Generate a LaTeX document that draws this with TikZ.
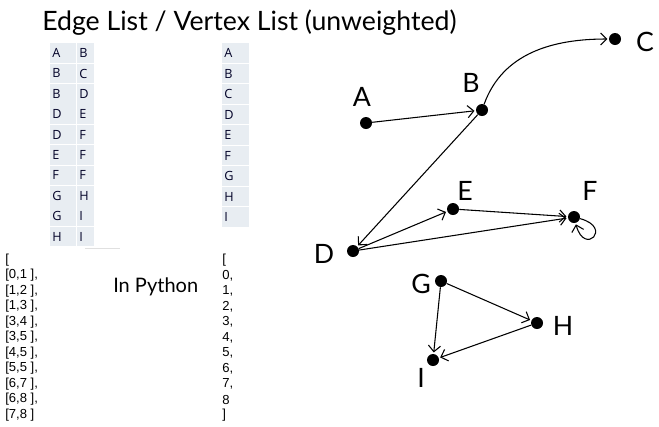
\documentclass[tikz,border=0pt]{standalone}
\usepackage{fontspec}
\setmainfont{Lato}
\newfontfamily\pyfont{Liberation Sans}
\newfontfamily\cellfont{Open Sans}
\usetikzlibrary{arrows.meta}

\begin{document}
\begin{tikzpicture}[x=0.75pt, y=-0.75pt, >={Straight Barb[length=1.6mm]},
	cell/.style={fill=cellbg, anchor=north west, inner xsep=1.5pt, inner ysep=0pt, minimum height=19.6*0.75pt, text depth=0pt, font=\cellfont\fontsize{9.5}{10}\selectfont, text=black!85!blue, align=left},
	pyline/.style={anchor=west, inner sep=0pt, font=\pyfont\fontsize{9.8}{10}\selectfont},
	dot/.style={circle, fill=black, inner sep=0pt, minimum size=9pt},
	lbl/.style={inner sep=0pt, font=\fontsize{20}{22}\selectfont},
	edge/.style={->, thick, shorten >=1pt}]
	\definecolor{cellbg}{HTML}{E8EDF2}
	\useasboundingbox (0,0) rectangle (659,426);
	% title
	\node[anchor=base west, inner sep=0pt, font=\fontsize{20}{24}\selectfont] (title) at (42,30) {Edge List / Vertex List (unweighted)};
	% edge list table
	\foreach \a/\b [count=\i] in {A/B,B/C,B/D,D/E,D/F,E/F,F/F,G/H,G/I,H/I} {
		\node[cell, text width=22*0.75pt] (ea\i) at (50,{43+20.4*(\i-1)}) {\a};
		\node[cell, text width=13*0.75pt] (eb\i) at (77,{43+20.4*(\i-1)}) {\b};
	}
	\draw[black!12] (85,248) -- (120,248);
	% vertex list table
	\foreach \v [count=\i] in {A,B,C,D,E,F,G,H,I}
		\node[cell, text width=23*0.75pt] (v\i) at (222,{43+20.5*(\i-1)}) {\v};
	% python lists
	\foreach \t [count=\i] in {{[},{[0,1 ],},{[1,2 ],},{[1,3 ],},{[3,4 ],},{[3,5 ],},{[4,5 ],},{[5,5 ],},{[6,7 ],},{[6,8 ],},{[7,8 ]}}
		\node[pyline] (pe\i) at (5,{260+15.5*(\i-1)}) {\t};
	\foreach \t [count=\i] in {{[},{0,},{1,},{2,},{3,},{4,},{5,},{6,},{7,},8,{]}}
		\node[pyline] (pv\i) at (222,{260+15.5*(\i-1)}) {\t};
	\node[anchor=base west, inner sep=0pt, font=\fontsize{15}{18}\selectfont] (py) at (113,292) {In Python};
	% graph
	\node[dot] (A) at (366,123) {};
	\node[dot] (B) at (482,110) {};
	\node[dot] (C) at (615,39) {};
	\node[dot] (D) at (353,251) {};
	\node[dot] (E) at (453,209) {};
	\node[dot] (F) at (574,217) {};
	\node[dot] (G) at (441,281) {};
	\node[dot] (H) at (537,323) {};
	\node[dot] (I) at (433,360) {};
	\node[lbl] (lA) at (362,97) {A};
	\node[lbl] (lB) at (471,83) {B};
	\node[lbl] (lC) at (645,42) {C};
	\node[lbl] (lD) at (324,254) {D};
	\node[lbl] (lE) at (465,191) {E};
	\node[lbl] (lF) at (590,191) {F};
	\node[lbl] (lG) at (421,284) {G};
	\node[lbl] (lH) at (563,326) {H};
	\node[lbl] (lI) at (421,378) {I};
	\draw[edge] (A) -- (B);
	\draw[edge] (B) to[out=70, in=180] (C);
	\draw[edge] (B) -- (D);
	\draw[edge] (D) -- (E);
	\draw[edge] (D) -- (F);
	\draw[edge] (E) -- (F);
	\draw[edge] (F) to[out=-15, in=-75, looseness=14] (F);
	\draw[edge] (G) -- (H);
	\draw[edge] (G) -- (I);
	\draw[edge] (H) -- (I);
\end{tikzpicture}
\end{document}
